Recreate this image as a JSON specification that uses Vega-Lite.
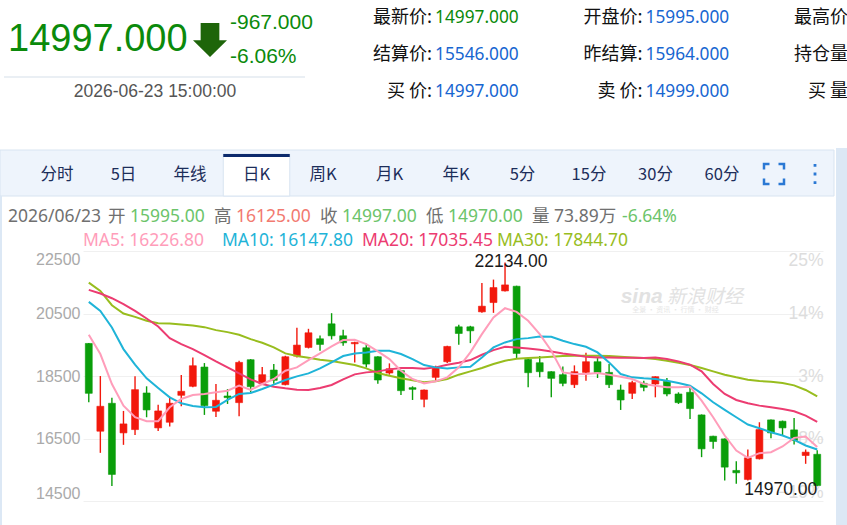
{
  "$schema": "https://vega.github.io/schema/vega-lite/v6.json",
  "width": 740,
  "height": 250,
  "autosize": {"type": "none"},
  "padding": {"left": 83, "top": 251, "right": 24, "bottom": 24},
  "background": "#ffffff",
  "config": {"view": {"stroke": null}, "font": "Liberation Sans"},
  "datasets": {
    "candles": [
      {"date": "2026-03-19", "open": 19542, "high": 19560, "low": 17659, "close": 17946},
      {"date": "2026-03-20", "open": 16733, "high": 18499, "low": 16041, "close": 17531},
      {"date": "2026-03-23", "open": 17627, "high": 17808, "low": 14978, "close": 15350},
      {"date": "2026-03-24", "open": 16680, "high": 17382, "low": 16297, "close": 16967},
      {"date": "2026-03-25", "open": 16786, "high": 18489, "low": 16616, "close": 18063},
      {"date": "2026-03-26", "open": 17957, "high": 18170, "low": 17180, "close": 17414},
      {"date": "2026-03-27", "open": 16840, "high": 17584, "low": 16744, "close": 17382},
      {"date": "2026-03-30", "open": 17020, "high": 17840, "low": 16882, "close": 17627},
      {"date": "2026-03-31", "open": 17882, "high": 18531, "low": 17531, "close": 18010},
      {"date": "2026-04-01", "open": 18170, "high": 19095, "low": 18138, "close": 18829},
      {"date": "2026-04-02", "open": 18787, "high": 18914, "low": 17255, "close": 17552},
      {"date": "2026-04-03", "open": 17372, "high": 18244, "low": 17191, "close": 17723},
      {"date": "2026-04-07", "open": 17861, "high": 18084, "low": 17606, "close": 17808},
      {"date": "2026-04-08", "open": 17648, "high": 18989, "low": 17212, "close": 18936},
      {"date": "2026-04-09", "open": 19021, "high": 19040, "low": 17978, "close": 18159},
      {"date": "2026-04-10", "open": 18265, "high": 18787, "low": 18244, "close": 18542},
      {"date": "2026-04-13", "open": 18691, "high": 18882, "low": 18255, "close": 18361},
      {"date": "2026-04-14", "open": 18223, "high": 19148, "low": 18201, "close": 19116},
      {"date": "2026-04-15", "open": 19138, "high": 20042, "low": 19095, "close": 19489},
      {"date": "2026-04-16", "open": 19414, "high": 20010, "low": 19382, "close": 19883},
      {"date": "2026-04-17", "open": 19691, "high": 19797, "low": 19308, "close": 19510},
      {"date": "2026-04-20", "open": 20170, "high": 20510, "low": 19670, "close": 19787},
      {"date": "2026-04-21", "open": 19787, "high": 19978, "low": 19468, "close": 19563},
      {"date": "2026-04-22", "open": 19531, "high": 19595, "low": 18936, "close": 19574},
      {"date": "2026-04-23", "open": 19404, "high": 19531, "low": 18776, "close": 18882},
      {"date": "2026-04-24", "open": 19116, "high": 19130, "low": 18255, "close": 18372},
      {"date": "2026-04-27", "open": 18595, "high": 18904, "low": 18542, "close": 18733},
      {"date": "2026-04-28", "open": 18670, "high": 18690, "low": 17893, "close": 18031},
      {"date": "2026-04-29", "open": 18127, "high": 18170, "low": 17733, "close": 18074},
      {"date": "2026-04-30", "open": 17755, "high": 18070, "low": 17499, "close": 18052},
      {"date": "2026-05-06", "open": 18457, "high": 18829, "low": 18350, "close": 18776},
      {"date": "2026-05-07", "open": 18957, "high": 19468, "low": 18914, "close": 19446},
      {"date": "2026-05-08", "open": 20074, "high": 20138, "low": 19499, "close": 19861},
      {"date": "2026-05-11", "open": 20074, "high": 20106, "low": 19553, "close": 19946},
      {"date": "2026-05-12", "open": 20553, "high": 21479, "low": 20521, "close": 20734},
      {"date": "2026-05-13", "open": 20851, "high": 21585, "low": 20521, "close": 21330},
      {"date": "2026-05-14", "open": 21223, "high": 22134, "low": 21202, "close": 21415},
      {"date": "2026-05-15", "open": 21372, "high": 21390, "low": 19074, "close": 19223},
      {"date": "2026-05-18", "open": 19031, "high": 19050, "low": 18138, "close": 18606},
      {"date": "2026-05-19", "open": 18925, "high": 19138, "low": 18457, "close": 18638},
      {"date": "2026-05-20", "open": 18638, "high": 18650, "low": 17818, "close": 18425},
      {"date": "2026-05-21", "open": 18542, "high": 18808, "low": 18170, "close": 18265},
      {"date": "2026-05-22", "open": 18223, "high": 18840, "low": 18116, "close": 18638},
      {"date": "2026-05-25", "open": 18616, "high": 19244, "low": 18350, "close": 18957},
      {"date": "2026-05-26", "open": 18957, "high": 19074, "low": 18435, "close": 18616},
      {"date": "2026-05-27", "open": 18616, "high": 18882, "low": 18116, "close": 18223},
      {"date": "2026-05-28", "open": 18052, "high": 18223, "low": 17414, "close": 17733},
      {"date": "2026-05-29", "open": 17946, "high": 18350, "low": 17765, "close": 18287},
      {"date": "2026-06-01", "open": 18265, "high": 18350, "low": 18010, "close": 18138},
      {"date": "2026-06-02", "open": 18244, "high": 18489, "low": 17818, "close": 18478},
      {"date": "2026-06-03", "open": 18329, "high": 18435, "low": 17850, "close": 17925},
      {"date": "2026-06-04", "open": 17925, "high": 17978, "low": 17606, "close": 17648},
      {"date": "2026-06-05", "open": 17978, "high": 18138, "low": 17127, "close": 17457},
      {"date": "2026-06-08", "open": 17254, "high": 17270, "low": 15903, "close": 16169},
      {"date": "2026-06-09", "open": 16573, "high": 16590, "low": 16169, "close": 16403},
      {"date": "2026-06-10", "open": 16488, "high": 16500, "low": 15158, "close": 15584},
      {"date": "2026-06-11", "open": 15478, "high": 15776, "low": 15052, "close": 15403},
      {"date": "2026-06-12", "open": 15190, "high": 16148, "low": 15158, "close": 15882},
      {"date": "2026-06-15", "open": 15850, "high": 17020, "low": 15829, "close": 16786},
      {"date": "2026-06-16", "open": 17095, "high": 17110, "low": 16510, "close": 16680},
      {"date": "2026-06-17", "open": 17052, "high": 17074, "low": 16595, "close": 16840},
      {"date": "2026-06-18", "open": 16776, "high": 17159, "low": 16308, "close": 16435},
      {"date": "2026-06-22", "open": 15956, "high": 16148, "low": 15690, "close": 16063},
      {"date": "2026-06-23", "open": 15995, "high": 16125, "low": 14970, "close": 14997}
    ],
    "ma": [
      {"date": "2026-03-19", "ma5": 19819, "ma10": 20872, "ma20": 21255, "ma30": 21489},
      {"date": "2026-03-20", "ma5": 19202, "ma10": 20585, "ma20": 21138, "ma30": 21223},
      {"date": "2026-03-23", "ma5": 18244, "ma10": 20053, "ma20": 20989, "ma30": 20766},
      {"date": "2026-03-24", "ma5": 17552, "ma10": 19361, "ma20": 20798, "ma30": 20500},
      {"date": "2026-03-25", "ma5": 17180, "ma10": 18861, "ma20": 20585, "ma30": 20393},
      {"date": "2026-03-26", "ma5": 17052, "ma10": 18425, "ma20": 20340, "ma30": 20266},
      {"date": "2026-03-27", "ma5": 17052, "ma10": 18116, "ma20": 20085, "ma30": 20191},
      {"date": "2026-03-30", "ma5": 17499, "ma10": 17818, "ma20": 19712, "ma30": 20180},
      {"date": "2026-03-31", "ma5": 17765, "ma10": 17627, "ma20": 19521, "ma30": 20149},
      {"date": "2026-04-01", "ma5": 17893, "ma10": 17542, "ma20": 19361, "ma30": 20117},
      {"date": "2026-04-02", "ma5": 17925, "ma10": 17499, "ma20": 19170, "ma30": 20063},
      {"date": "2026-04-03", "ma5": 17978, "ma10": 17510, "ma20": 18967, "ma30": 19968},
      {"date": "2026-04-07", "ma5": 18031, "ma10": 17733, "ma20": 18776, "ma30": 19904},
      {"date": "2026-04-08", "ma5": 18191, "ma10": 17925, "ma20": 18584, "ma30": 19819},
      {"date": "2026-04-09", "ma5": 18052, "ma10": 17957, "ma20": 18393, "ma30": 19680},
      {"date": "2026-04-10", "ma5": 18244, "ma10": 18084, "ma20": 18244, "ma30": 19563},
      {"date": "2026-04-13", "ma5": 18404, "ma10": 18223, "ma20": 18159, "ma30": 19414},
      {"date": "2026-04-14", "ma5": 18670, "ma10": 18372, "ma20": 18106, "ma30": 19223},
      {"date": "2026-04-15", "ma5": 18776, "ma10": 18489, "ma20": 18063, "ma30": 19138},
      {"date": "2026-04-16", "ma5": 19010, "ma10": 18584, "ma20": 18052, "ma30": 19085},
      {"date": "2026-04-17", "ma5": 19223, "ma10": 18744, "ma20": 18116, "ma30": 19021},
      {"date": "2026-04-20", "ma5": 19446, "ma10": 18936, "ma20": 18212, "ma30": 18978},
      {"date": "2026-04-21", "ma5": 19649, "ma10": 19138, "ma20": 18393, "ma30": 18914},
      {"date": "2026-04-22", "ma5": 19659, "ma10": 19223, "ma20": 18553, "ma30": 18850},
      {"date": "2026-04-23", "ma5": 19521, "ma10": 19255, "ma20": 18616, "ma30": 18744},
      {"date": "2026-04-24", "ma5": 19287, "ma10": 19308, "ma20": 18648, "ma30": 18595},
      {"date": "2026-04-27", "ma5": 19042, "ma10": 19308, "ma20": 18712, "ma30": 18510},
      {"date": "2026-04-28", "ma5": 18670, "ma10": 19202, "ma20": 18755, "ma30": 18425},
      {"date": "2026-04-29", "ma5": 18404, "ma10": 19042, "ma20": 18755, "ma30": 18361},
      {"date": "2026-04-30", "ma5": 18265, "ma10": 18850, "ma20": 18733, "ma30": 18297},
      {"date": "2026-05-06", "ma5": 18329, "ma10": 18776, "ma20": 18776, "ma30": 18329},
      {"date": "2026-05-07", "ma5": 18457, "ma10": 18744, "ma20": 18861, "ma30": 18404},
      {"date": "2026-05-08", "ma5": 18776, "ma10": 18776, "ma20": 18925, "ma30": 18542},
      {"date": "2026-05-11", "ma5": 19255, "ma10": 18797, "ma20": 19010, "ma30": 18648},
      {"date": "2026-05-12", "ma5": 19840, "ma10": 19095, "ma20": 19180, "ma30": 18755},
      {"date": "2026-05-13", "ma5": 20372, "ma10": 19414, "ma20": 19329, "ma30": 18882},
      {"date": "2026-05-14", "ma5": 20670, "ma10": 19574, "ma20": 19436, "ma30": 18989},
      {"date": "2026-05-15", "ma5": 20553, "ma10": 19680, "ma20": 19414, "ma30": 19053},
      {"date": "2026-05-18", "ma5": 20266, "ma10": 19712, "ma20": 19383, "ma30": 19074},
      {"date": "2026-05-19", "ma5": 19840, "ma10": 19766, "ma20": 19340, "ma30": 19095},
      {"date": "2026-05-20", "ma5": 19308, "ma10": 19755, "ma20": 19287, "ma30": 19116},
      {"date": "2026-05-21", "ma5": 18616, "ma10": 19627, "ma20": 19223, "ma30": 19138},
      {"date": "2026-05-22", "ma5": 18563, "ma10": 19521, "ma20": 19170, "ma30": 19148},
      {"date": "2026-05-25", "ma5": 18563, "ma10": 19436, "ma20": 19116, "ma30": 19148},
      {"date": "2026-05-26", "ma5": 18595, "ma10": 19255, "ma20": 19095, "ma30": 19148},
      {"date": "2026-05-27", "ma5": 18542, "ma10": 18936, "ma20": 19095, "ma30": 19138},
      {"date": "2026-05-28", "ma5": 18478, "ma10": 18563, "ma20": 19085, "ma30": 19116},
      {"date": "2026-05-29", "ma5": 18404, "ma10": 18457, "ma20": 19085, "ma30": 19095},
      {"date": "2026-06-01", "ma5": 18244, "ma10": 18425, "ma20": 19074, "ma30": 19074},
      {"date": "2026-06-02", "ma5": 18191, "ma10": 18404, "ma20": 19095, "ma30": 19042},
      {"date": "2026-06-03", "ma5": 18138, "ma10": 18350, "ma20": 19042, "ma30": 18989},
      {"date": "2026-06-04", "ma5": 18138, "ma10": 18276, "ma20": 18967, "ma30": 18925},
      {"date": "2026-06-05", "ma5": 18159, "ma10": 18191, "ma20": 18861, "ma30": 18850},
      {"date": "2026-06-08", "ma5": 17712, "ma10": 17946, "ma20": 18648, "ma30": 18755},
      {"date": "2026-06-09", "ma5": 17180, "ma10": 17659, "ma20": 18244, "ma30": 18648},
      {"date": "2026-06-10", "ma5": 16595, "ma10": 17414, "ma20": 17925, "ma30": 18542},
      {"date": "2026-06-11", "ma5": 16116, "ma10": 17180, "ma20": 17733, "ma30": 18457},
      {"date": "2026-06-12", "ma5": 15882, "ma10": 16946, "ma20": 17627, "ma30": 18382},
      {"date": "2026-06-15", "ma5": 16031, "ma10": 16829, "ma20": 17552, "ma30": 18340},
      {"date": "2026-06-16", "ma5": 16063, "ma10": 16701, "ma20": 17499, "ma30": 18318},
      {"date": "2026-06-17", "ma5": 16244, "ma10": 16595, "ma20": 17446, "ma30": 18276},
      {"date": "2026-06-18", "ma5": 16520, "ma10": 16456, "ma20": 17372, "ma30": 18201},
      {"date": "2026-06-22", "ma5": 16563, "ma10": 16276, "ma20": 17233, "ma30": 18052},
      {"date": "2026-06-23", "ma5": 16226.8, "ma10": 16147.8, "ma20": 17035.45, "ma30": 17844.7}
    ],
    "tabs": [
      {"tab": "分时", "selected": false}, {"tab": "5日", "selected": false}, {"tab": "年线", "selected": false},
      {"tab": "日K", "selected": true}, {"tab": "周K", "selected": false}, {"tab": "月K", "selected": false},
      {"tab": "年K", "selected": false}, {"tab": "5分", "selected": false}, {"tab": "15分", "selected": false},
      {"tab": "30分", "selected": false}, {"tab": "60分", "selected": false}
    ],
    "icons": [{"icon": "full"}, {"icon": "more"}],
    "table": [
      {"row": 0, "col": 0, "label": "最新价:", "value": "14997.000", "tone": "down"},
      {"row": 1, "col": 0, "label": "结算价:", "value": "15546.000", "tone": "flat"},
      {"row": 2, "col": 0, "label": "买  价:", "value": "14997.000", "tone": "flat"},
      {"row": 0, "col": 1, "label": "开盘价:", "value": "15995.000", "tone": "flat"},
      {"row": 1, "col": 1, "label": "昨结算:", "value": "15964.000", "tone": "flat"},
      {"row": 2, "col": 1, "label": "卖  价:", "value": "14999.000", "tone": "flat"},
      {"row": 0, "col": 2, "label": "最高价:", "value": "", "tone": "flat"},
      {"row": 1, "col": 2, "label": "持仓量:", "value": "", "tone": "flat"},
      {"row": 2, "col": 2, "label": "买  量:", "value": "", "tone": "flat"}
    ],
    "quote": [{"last": "14997.000", "change": "-967.000", "pct": "-6.06%", "time": "2026-06-23 15:00:00"}],
    "ohlc": [
      {"seg": 0, "label": "2026/06/23", "value": "", "tone": "flat"},
      {"seg": 1, "label": "开", "value": "15995.00", "tone": "down"},
      {"seg": 2, "label": "高", "value": "16125.00", "tone": "up"},
      {"seg": 3, "label": "收", "value": "14997.00", "tone": "down"},
      {"seg": 4, "label": "低", "value": "14970.00", "tone": "down"},
      {"seg": 5, "label": "量", "value": "73.89万", "tone": "flat"},
      {"seg": 6, "label": "", "value": "-6.64%", "tone": "down"}
    ],
    "malegend": [
      {"seg": 0, "name": "MA5", "text": "MA5: 16226.80"},
      {"seg": 1, "name": "MA10", "text": "MA10: 16147.80"},
      {"seg": 2, "name": "MA20", "text": "MA20: 17035.45"},
      {"seg": 3, "name": "MA30", "text": "MA30: 17844.70"}
    ]
  },
  "layer": [
    {
      "data": {"values": [{"part": "tabbar"}]},
      "mark": {"type": "rect", "fill": "#eef4fc", "stroke": "#d8e4f1", "strokeWidth": 1},
      "encoding": {
        "x": {"datum": 0, "type": "quantitative", "scale": {"domain": [0, 847], "range": [-83, 764]}, "axis": null},
        "x2": {"datum": 834},
        "y": {"datum": 150, "type": "quantitative", "scale": {"domain": [0, 525], "range": [-251, 274]}, "axis": null},
        "y2": {"datum": 196}
      }
    },
    {
      "data": {"values": [{"part": "margin"}]},
      "mark": {"type": "rect", "fill": "#dce8f5"},
      "encoding": {
        "x": {"datum": 836, "type": "quantitative", "scale": {"domain": [0, 847], "range": [-83, 764]}, "axis": null},
        "x2": {"datum": 847},
        "y": {"datum": 148, "type": "quantitative", "scale": {"domain": [0, 525], "range": [-251, 274]}, "axis": null},
        "y2": {"datum": 525}
      }
    },
    {
      "data": {"values": [{"part": "edge"}]},
      "mark": {"type": "rect", "fill": "#dce8f5"},
      "encoding": {
        "x": {"datum": 0, "type": "quantitative", "scale": {"domain": [0, 847], "range": [-83, 764]}, "axis": null},
        "x2": {"datum": 2},
        "y": {"datum": 196, "type": "quantitative", "scale": {"domain": [0, 525], "range": [-251, 274]}, "axis": null},
        "y2": {"datum": 525}
      }
    },
    {
      "data": {"name": "tabs"},
      "transform": [{"filter": "datum.selected"}],
      "mark": {"type": "rect", "fill": "#ffffff", "stroke": "#d8e4f1", "strokeWidth": 1},
      "encoding": {
        "x": {"field": "tab", "type": "nominal", "scale": {"type": "band", "domain": ["分时","5日","年线","日K","周K","月K","年K","5分","15分","30分","60分"], "range": [-59.25, 672.25], "paddingInner": 0, "paddingOuter": 0}, "axis": null},
        "y": {"datum": 0, "type": "quantitative", "scale": {"domain": [0, 1], "range": [-97, -55]}, "axis": null},
        "y2": {"datum": 1}
      }
    },
    {
      "data": {"name": "tabs"},
      "transform": [{"filter": "datum.selected"}],
      "mark": {"type": "rect", "fill": "#0c2a6c"},
      "encoding": {
        "x": {"field": "tab", "type": "nominal", "scale": {"type": "band", "domain": ["分时","5日","年线","日K","周K","月K","年K","5分","15分","30分","60分"], "range": [-59.25, 672.25], "paddingInner": 0, "paddingOuter": 0}, "axis": null},
        "y": {"datum": 0, "type": "quantitative", "scale": {"domain": [0, 1], "range": [-97, -94]}, "axis": null},
        "y2": {"datum": 1}
      }
    },
    {
      "data": {"name": "tabs"},
      "mark": {"type": "text", "font": "Noto Sans CJK SC", "fontSize": 16.5, "fill": "#1c2d5a", "baseline": "middle", "align": "center"},
      "encoding": {
        "x": {"field": "tab", "type": "nominal", "scale": {"type": "band", "domain": ["分时","5日","年线","日K","周K","月K","年K","5分","15分","30分","60分"], "range": [-59.25, 672.25], "paddingInner": 0, "paddingOuter": 0}, "axis": null},
        "y": {"datum": 0, "type": "quantitative", "scale": {"domain": [0, 1], "range": [-76, 0]}, "axis": null},
        "text": {"field": "tab"}
      }
    },
    {
      "data": {"name": "icons"},
      "transform": [{"filter": "datum.icon == 'full'"}],
      "mark": {"type": "point", "shape": "M-1,-0.45L-1,-1L-0.45,-1M0.45,-1L1,-1L1,-0.45M1,0.45L1,1L0.45,1M-0.45,1L-1,1L-1,0.45", "filled": false, "stroke": "#2a78d4", "strokeWidth": 2.5, "size": 400, "opacity": 1},
      "encoding": {
        "x": {"field": "icon", "type": "nominal", "scale": {"type": "point", "domain": ["full", "more"], "range": [691, 732], "padding": 0}, "axis": null},
        "y": {"datum": 0, "type": "quantitative", "scale": {"domain": [0, 1], "range": [-77, 0]}, "axis": null}
      }
    },
    {
      "data": {"name": "icons"},
      "transform": [{"filter": "datum.icon == 'more'"}],
      "mark": {"type": "point", "shape": "M-0.14,-1H0.14V-0.72H-0.14ZM-0.14,-0.14H0.14V0.14H-0.14ZM-0.14,0.72H0.14V1H-0.14Z", "filled": true, "fill": "#2a78d4", "size": 400, "opacity": 1},
      "encoding": {
        "x": {"field": "icon", "type": "nominal", "scale": {"type": "point", "domain": ["full", "more"], "range": [691, 732], "padding": 0}, "axis": null},
        "y": {"datum": 0, "type": "quantitative", "scale": {"domain": [0, 1], "range": [-77, 0]}, "axis": null}
      }
    },
    {
      "data": {"name": "table"},
      "mark": {"type": "text", "font": "Noto Sans CJK SC", "fontSize": 18, "fill": "#111111", "align": "right", "baseline": "middle"},
      "encoding": {
        "x": {"field": "col", "type": "quantitative", "scale": {"domain": [0, 2], "range": [349, 770]}, "axis": null},
        "y": {"field": "row", "type": "quantitative", "scale": {"domain": [0, 2], "range": [-233, -159]}, "axis": null},
        "text": {"field": "label"}
      }
    },
    {
      "data": {"name": "table"},
      "mark": {"type": "text", "font": "Noto Sans", "fontSize": 17.3, "align": "left", "baseline": "middle", "dx": 3},
      "encoding": {
        "x": {"field": "col", "type": "quantitative", "scale": {"domain": [0, 2], "range": [349, 770]}, "axis": null},
        "y": {"field": "row", "type": "quantitative", "scale": {"domain": [0, 2], "range": [-233, -159]}, "axis": null},
        "text": {"field": "value"},
        "color": {"field": "tone", "type": "nominal", "scale": {"domain": ["down", "flat"], "range": ["#0b8a0b", "#1766d1"]}, "legend": null}
      }
    },
    {
      "data": {"name": "quote"},
      "mark": {"type": "text", "fontSize": 38, "fill": "#0b8a0b", "align": "left", "baseline": "middle"},
      "encoding": {
        "x": {"datum": 0, "type": "quantitative", "scale": {"domain": [0, 1, 2, 3], "range": [-75, 72, 127, 147]}, "axis": null},
        "y": {"datum": 1, "type": "quantitative", "scale": {"domain": [0, 1, 2, 3, 4], "range": [-228, -211, -194, -174, -159]}, "axis": null},
        "text": {"field": "last"}
      }
    },
    {
      "data": {"name": "quote"},
      "mark": {"type": "point", "shape": "M-0.55,-1H0.55V0.02H1L0,1L-1,0.02H-0.55Z", "filled": true, "fill": "#1e650a", "size": 1156, "opacity": 1},
      "encoding": {
        "x": {"datum": 2, "type": "quantitative", "scale": {"domain": [0, 1, 2, 3], "range": [-75, 72, 127, 147]}, "axis": null},
        "y": {"datum": 1, "type": "quantitative", "scale": {"domain": [0, 1, 2, 3, 4], "range": [-228, -211, -194, -174, -159]}, "axis": null}
      }
    },
    {
      "data": {"name": "quote"},
      "mark": {"type": "text", "fontSize": 21, "fill": "#0b8a0b", "align": "left", "baseline": "middle"},
      "encoding": {
        "x": {"datum": 3, "type": "quantitative", "scale": {"domain": [0, 1, 2, 3], "range": [-75, 72, 127, 147]}, "axis": null},
        "y": {"datum": 0, "type": "quantitative", "scale": {"domain": [0, 1, 2, 3, 4], "range": [-228, -211, -194, -174, -159]}, "axis": null},
        "text": {"field": "change"}
      }
    },
    {
      "data": {"name": "quote"},
      "mark": {"type": "text", "fontSize": 21, "fill": "#0b8a0b", "align": "left", "baseline": "middle"},
      "encoding": {
        "x": {"datum": 3, "type": "quantitative", "scale": {"domain": [0, 1, 2, 3], "range": [-75, 72, 127, 147]}, "axis": null},
        "y": {"datum": 2, "type": "quantitative", "scale": {"domain": [0, 1, 2, 3, 4], "range": [-228, -211, -194, -174, -159]}, "axis": null},
        "text": {"field": "pct"}
      }
    },
    {
      "data": {"name": "quote"},
      "mark": {"type": "rule", "stroke": "#d5dfe9", "strokeWidth": 1},
      "encoding": {
        "x": {"datum": 0, "type": "quantitative", "scale": {"domain": [0, 1], "range": [-79, 222]}, "axis": null},
        "x2": {"datum": 1},
        "y": {"datum": 3, "type": "quantitative", "scale": {"domain": [0, 1, 2, 3, 4], "range": [-228, -211, -194, -174, -159]}, "axis": null}
      }
    },
    {
      "data": {"name": "quote"},
      "mark": {"type": "text", "fontSize": 17.5, "fill": "#555555", "align": "center", "baseline": "middle"},
      "encoding": {
        "x": {"datum": 1, "type": "quantitative", "scale": {"domain": [0, 1, 2, 3], "range": [-75, 72, 127, 147]}, "axis": null},
        "y": {"datum": 4, "type": "quantitative", "scale": {"domain": [0, 1, 2, 3, 4], "range": [-228, -211, -194, -174, -159]}, "axis": null},
        "text": {"field": "time"}
      }
    },
    {
      "data": {"name": "ohlc"},
      "mark": {"type": "text", "font": "Noto Sans, Noto Sans CJK SC", "fontSize": 17.5, "fill": "#707070", "align": "left", "baseline": "middle"},
      "encoding": {
        "x": {"field": "seg", "type": "quantitative", "scale": {"domain": [0, 1, 5, 6], "range": [-75, 25, 449, 517]}, "axis": null},
        "y": {"datum": 0, "type": "quantitative", "scale": {"domain": [0, 1], "range": [-34, 0]}, "axis": null},
        "text": {"field": "label"}
      }
    },
    {
      "data": {"name": "ohlc"},
      "mark": {"type": "text", "font": "Noto Sans, Noto Sans CJK SC", "fontSize": 17.5, "align": "left", "baseline": "middle", "dx": 22},
      "encoding": {
        "x": {"field": "seg", "type": "quantitative", "scale": {"domain": [0, 1, 5, 6], "range": [-75, 25, 449, 517]}, "axis": null},
        "y": {"datum": 0, "type": "quantitative", "scale": {"domain": [0, 1], "range": [-34, 0]}, "axis": null},
        "text": {"field": "value"},
        "color": {"field": "tone", "type": "nominal", "scale": {"domain": ["down", "up", "flat"], "range": ["#6cc46a", "#f27a70", "#707070"]}, "legend": null}
      }
    },
    {
      "data": {"name": "malegend"},
      "mark": {"type": "text", "font": "Noto Sans", "fontSize": 17.5, "align": "left", "baseline": "middle"},
      "encoding": {
        "x": {"field": "seg", "type": "quantitative", "scale": {"domain": [0, 1, 2, 3], "range": [0, 139, 279, 414]}, "axis": null},
        "y": {"datum": 0, "type": "quantitative", "scale": {"domain": [0, 1], "range": [-10, 0]}, "axis": null},
        "text": {"field": "text"},
        "color": {"field": "name", "type": "nominal", "scale": {"domain": ["MA5", "MA10", "MA20", "MA30"], "range": ["#ff9dba", "#1fb4d8", "#ec3c71", "#98bd1e"]}, "legend": null}
      }
    },
    {
      "layer": [
        {
          "data": {"values": [{"text": "sina"}]},
          "mark": {"type": "text", "fontSize": 21, "fontWeight": "bold", "fontStyle": "italic", "fill": "#e2e2e2", "align": "left", "baseline": "alphabetic"},
          "encoding": {
            "x": {"datum": "2026-05-28", "type": "ordinal", "scale": {"type": "band", "paddingInner": 0, "paddingOuter": 0}, "axis": null},
            "y": {"datum": 20850, "type": "quantitative", "scale": {"domain": [14500, 22500], "nice": false, "zero": false}, "axis": null},
            "text": {"field": "text"}
          }
        },
        {
          "data": {"values": [{"text": "新浪财经"}]},
          "mark": {"type": "text", "font": "Noto Sans CJK SC", "fontSize": 19, "fontStyle": "italic", "fill": "#e2e2e2", "align": "left", "baseline": "alphabetic"},
          "encoding": {
            "x": {"datum": "2026-06-03", "type": "ordinal", "scale": {"type": "band", "paddingInner": 0, "paddingOuter": 0}, "axis": null},
            "y": {"datum": 20850, "type": "quantitative", "scale": {"domain": [14500, 22500], "nice": false, "zero": false}, "axis": null},
            "text": {"field": "text"}
          }
        },
        {
          "data": {"values": [{"text": "全景  ·  资讯  ·  行情  ·  财经"}]},
          "mark": {"type": "text", "font": "Noto Sans CJK SC", "fontSize": 7, "fill": "#e6e6e6", "align": "left", "baseline": "middle"},
          "encoding": {
            "x": {"datum": "2026-05-29", "type": "ordinal", "scale": {"type": "band", "paddingInner": 0, "paddingOuter": 0}, "axis": null},
            "y": {"datum": 20620, "type": "quantitative", "scale": {"domain": [14500, 22500], "nice": false, "zero": false}, "axis": null},
            "text": {"field": "text"}
          }
        },
        {
          "data": {"name": "candles"},
          "mark": {"type": "rule", "strokeWidth": 1.4},
          "encoding": {
            "x": {
              "field": "date", "type": "ordinal",
              "scale": {"type": "band", "paddingInner": 0, "paddingOuter": 0},
              "axis": {
                "values": ["2026-03-19", "2026-05-06", "2026-06-01", "2026-06-23"],
                "labelExpr": "datum.value == '2026-03-19' ? '2026/3/19' : datum.value == '2026-05-06' ? '2026/5' : datum.value == '2026-06-01' ? '2026/6' : '2026/6/23'",
                "title": null, "ticks": false, "domain": false, "grid": true, "gridColor": "#eeeeee",
                "gridOpacity": {"condition": {"test": "datum.value == '2026-05-06' || datum.value == '2026-06-01'", "value": 1}, "value": 0},
                "labelFlush": 10, "labelFlushOffset": 6, "labelColor": "#888888", "labelFontSize": 16, "labelPadding": 6, "labelAngle": 0
              }
            },
            "y": {
              "field": "low", "type": "quantitative",
              "scale": {"domain": [14500, 22500], "nice": false, "zero": false},
              "axis": {"values": [14500, 16500, 18500, 20500, 22500], "format": "d", "title": null, "ticks": false, "domain": false, "grid": true, "gridColor": "#f0f0f0", "labelFlush": true, "labelColor": "#aaaaaa", "labelFontSize": 16, "labelPadding": 3}
            },
            "y2": {"field": "high"},
            "color": {"condition": {"test": "datum.close >= datum.open", "value": "#f2180c"}, "value": "#0a9e0a"}
          }
        },
        {
          "data": {"name": "candles"},
          "mark": {"type": "bar", "width": {"band": 0.6}, "strokeWidth": 0.6},
          "encoding": {
            "x": {"field": "date", "type": "ordinal", "scale": {"type": "band", "paddingInner": 0, "paddingOuter": 0}, "axis": null},
            "y": {"field": "open", "type": "quantitative", "axis": null},
            "y2": {"field": "close"},
            "color": {"condition": {"test": "datum.close >= datum.open", "value": "#f2180c"}, "value": "#0a9e0a"},
            "stroke": {"condition": {"test": "datum.close >= datum.open", "value": "#f2180c"}, "value": "#0a9e0a"}
          }
        },
        {
          "data": {"name": "ma"},
          "mark": {"type": "line", "stroke": "#98bd1e", "strokeWidth": 2},
          "encoding": {
            "x": {"field": "date", "type": "ordinal", "scale": {"type": "band", "paddingInner": 0, "paddingOuter": 0}, "axis": null},
            "y": {
              "field": "ma30", "type": "quantitative",
              "axis": {"orient": "right", "values": [14500, 16500, 18500, 20500, 22500], "labelExpr": "format(datum.value / 180 - 100, 'd') + '%'", "title": null, "ticks": false, "tickSize": 0, "domain": false, "grid": false, "labelFlush": true, "labelAlign": "right", "labelPadding": 0, "labelColor": "#dddddd", "labelFontSize": 17.5}
            }
          }
        },
        {
          "data": {"name": "ma"},
          "mark": {"type": "line", "stroke": "#ec3c71", "strokeWidth": 2},
          "encoding": {
            "x": {"field": "date", "type": "ordinal", "scale": {"type": "band", "paddingInner": 0, "paddingOuter": 0}, "axis": null},
            "y": {"field": "ma20", "type": "quantitative", "axis": null}
          }
        },
        {
          "data": {"name": "ma"},
          "mark": {"type": "line", "stroke": "#1fb4d8", "strokeWidth": 2},
          "encoding": {
            "x": {"field": "date", "type": "ordinal", "scale": {"type": "band", "paddingInner": 0, "paddingOuter": 0}, "axis": null},
            "y": {"field": "ma10", "type": "quantitative", "axis": null}
          }
        },
        {
          "data": {"name": "ma"},
          "mark": {"type": "line", "stroke": "#ff9dba", "strokeWidth": 2},
          "encoding": {
            "x": {"field": "date", "type": "ordinal", "scale": {"type": "band", "paddingInner": 0, "paddingOuter": 0}, "axis": null},
            "y": {"field": "ma5", "type": "quantitative", "axis": null}
          }
        },
        {
          "data": {"name": "candles"},
          "transform": [{"joinaggregate": [{"op": "max", "field": "high", "as": "hmax"}]}, {"filter": "datum.high == datum.hmax"}],
          "mark": {"type": "text", "fontSize": 17.5, "fill": "#1a1a1a", "align": "center", "baseline": "middle", "dx": 6},
          "encoding": {
            "x": {"field": "date", "type": "ordinal", "scale": {"type": "band", "paddingInner": 0, "paddingOuter": 0}, "axis": null},
            "y": {"field": "high", "type": "quantitative", "axis": null},
            "text": {"field": "high", "format": ".2f"}
          }
        },
        {
          "data": {"name": "candles"},
          "transform": [{"joinaggregate": [{"op": "min", "field": "low", "as": "lmin"}]}, {"filter": "datum.low == datum.lmin"}],
          "mark": {"type": "text", "fontSize": 17.5, "fill": "#1a1a1a", "align": "right", "baseline": "middle", "dy": 4},
          "encoding": {
            "x": {"field": "date", "type": "ordinal", "scale": {"type": "band", "paddingInner": 0, "paddingOuter": 0}, "axis": null},
            "y": {"field": "low", "type": "quantitative", "axis": null},
            "text": {"field": "low", "format": ".2f"}
          }
        }
      ],
      "resolve": {"axis": {"y": "independent"}}
    }
  ],
  "resolve": {
    "scale": {"x": "independent", "y": "independent", "color": "independent", "stroke": "independent"},
    "axis": {"x": "independent", "y": "independent"}
  }
}
